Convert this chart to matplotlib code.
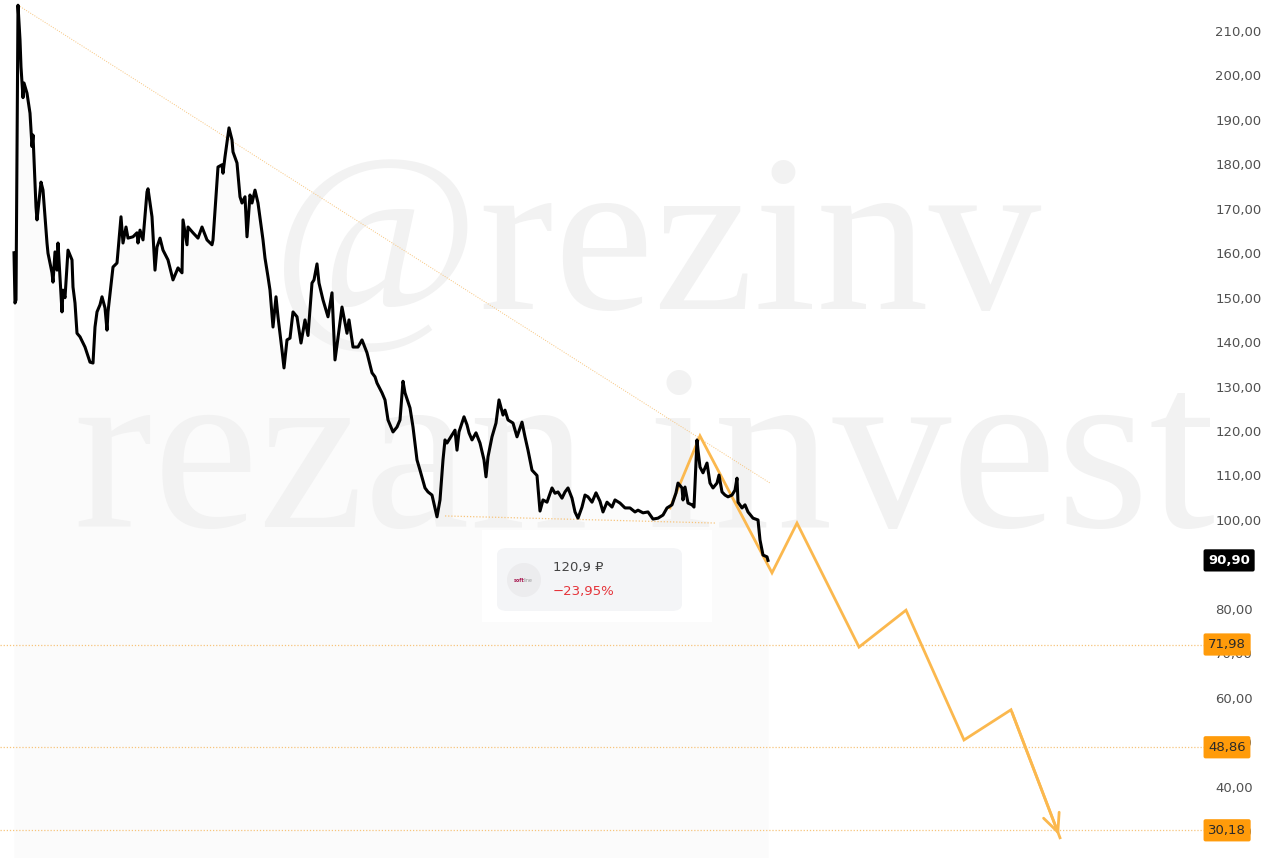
import numpy as np
import matplotlib.pyplot as plt
from matplotlib.patches import FancyBboxPatch, Circle, Rectangle
from matplotlib.transforms import blended_transform_factory

plt.rcParams['font.family'] = ['DejaVu Sans', 'Noto Sans']

# price path (bar index, close)
bars = [14, 15, 16, 18, 19, 20, 21, 23, 24, 27, 30, 32, 33, 36, 37, 41, 43, 47, 48, 52,
        53, 55, 57, 58, 62, 63, 65, 68, 72, 73, 75, 77, 80, 85, 90, 93, 95, 97, 100, 102,
        105, 107, 108, 113, 117, 121, 123, 126, 128, 133, 137, 138, 140, 143, 147, 148, 152, 155, 157, 160,
        163, 168, 173, 178, 182, 183, 187, 188, 193, 198, 202, 207, 212, 213, 218, 222, 223, 225, 229, 232,
        233, 237, 240, 242, 245, 247, 250, 252, 255, 258, 263, 265, 268, 270, 273, 276, 278, 282, 284, 287,
        290, 293, 297, 301, 305, 308, 312, 314, 317, 319, 323, 328, 332, 335, 338, 342, 347, 349, 353, 358,
        362, 367, 372, 375, 377, 382, 385, 388, 390, 393, 397, 400, 403, 405, 410, 413, 417, 420, 425, 428,
        432, 437, 440, 443, 445, 447, 450, 455, 457, 459, 464, 467, 469, 472, 476, 480, 484, 486, 488, 492,
        496, 499, 503, 505, 508, 513, 517, 522, 525, 528, 532, 537, 540, 543, 547, 552, 555, 558, 562, 565,
        568, 572, 575, 578, 582, 585, 588, 592, 596, 600, 603, 607, 612, 615, 620, 625, 630, 635, 638, 643,
        648, 653, 658, 663, 667, 672, 676, 678, 682, 683, 685, 688, 692, 694, 697, 698, 700, 703, 707, 710,
        713, 717, 719, 722, 725, 728, 732, 735, 737, 738, 742, 745, 748, 753, 758, 760, 763, 767, 768]
close = [160.1, 148.8, 149.5, 215.8, 212.0, 208.0, 201.9, 195.0, 198.3, 196.0, 191.5, 184.0, 186.6, 170.4, 167.5, 176.0, 174.2, 162.3, 160.0, 155.6,
         153.5, 160.3, 156.2, 162.3, 146.8, 151.7, 150.0, 160.7, 158.5, 152.4, 148.8, 142.0, 141.2, 138.9, 135.5, 135.3, 143.4, 146.8, 148.4, 150.2,
         147.7, 142.7, 146.8, 156.9, 157.8, 168.2, 162.3, 165.9, 163.4, 163.7, 164.6, 162.3, 165.2, 163.0, 173.8, 174.5, 168.2, 156.2, 161.4, 163.4,
         160.7, 158.5, 154.0, 156.7, 155.6, 167.5, 161.9, 165.9, 164.6, 163.4, 165.9, 163.0, 161.9, 163.0, 179.4, 179.9, 178.0, 181.7, 188.2, 185.5,
         182.8, 180.3, 172.7, 171.3, 172.7, 163.7, 173.1, 171.3, 174.2, 171.3, 163.0, 158.9, 154.7, 151.7, 143.4, 150.2, 145.7, 138.2, 134.2, 140.5,
         140.9, 146.8, 145.7, 139.8, 145.0, 141.5, 153.3, 154.0, 157.6, 153.3, 149.5, 145.7, 151.1, 136.0, 141.0, 147.9, 142.0, 145.0, 138.9, 138.9,
         140.5, 137.6, 133.1, 132.2, 130.8, 128.6, 127.0, 122.5, 121.4, 119.8, 120.9, 122.5, 131.2, 128.6, 125.2, 120.9, 113.5, 111.2, 107.2, 106.3,
         105.6, 100.7, 104.5, 113.5, 118.0, 117.3, 118.4, 120.2, 115.7, 119.8, 123.2, 121.4, 119.6, 118.0, 119.6, 117.3, 113.5, 109.7, 114.2, 118.7,
         121.8, 127.0, 123.6, 124.7, 122.5, 121.8, 118.7, 122.0, 118.7, 115.7, 111.2, 110.0, 102.0, 104.5, 104.0, 107.2, 106.0, 106.3, 104.9, 106.3,
         107.2, 104.9, 101.8, 100.4, 102.9, 105.6, 105.2, 104.0, 106.1, 104.2, 101.8, 104.0, 102.9, 104.5, 103.8, 102.7, 102.7, 101.8, 102.2, 101.6,
         101.8, 100.2, 100.4, 101.1, 102.7, 103.4, 106.1, 108.3, 107.2, 104.5, 107.4, 103.8, 103.4, 102.9, 118.0, 115.7, 111.9, 110.6, 112.8, 108.3,
         107.2, 108.3, 110.1, 106.3, 105.6, 105.2, 105.6, 106.7, 109.4, 104.0, 102.7, 103.4, 101.8, 100.4, 100.0, 95.5, 92.1, 91.7, 90.9]

# projected zigzag
proj_bars = [670, 700, 772, 797, 859, 906, 964, 1011, 1060]
proj_vals = [102.7, 118.9, 88.1, 99.3, 71.4, 79.7, 50.5, 57.3, 28.5]

# trend lines
upper_bars = [18, 770]
upper_vals = [215.8, 108.3]
lower_bars = [445, 716]
lower_vals = [100.9, 99.3]

levels = [71.98, 48.86, 30.18]
level_labels = ['71,98', '48,86', '30,18']
last_price = 90.90

yticks = [210, 200, 190, 180, 170, 160, 150, 140, 130, 120, 110, 100, 80, 70, 60, 50, 40, 30]

orange = '#ff9b0a'
light_or = '#f7c47c'
zig = '#fbb84e'

fig = plt.figure(figsize=(12.8, 8.58), dpi=100)
ax = fig.add_axes([0, 0, 1204 / 1280, 1])
ymin, ymax = 23.95, 216.97
ax.set_xlim(0, 1204)
ax.set_ylim(ymin, ymax)

# faint area under the price
ax.fill_between(bars, close, ymin, color='#fbfbfb', lw=0, zorder=0.2)

# watermark
ax.text(657, 147.5, '@rezinv', fontsize=162, family='Liberation Serif', color='#f2f2f2',
        ha='center', va='baseline', zorder=0.5)
ax.text(645, 98.5, 'rezan invest', fontsize=171, family='Liberation Serif', color='#f2f2f2',
        ha='center', va='baseline', zorder=0.5)

ax.plot(upper_bars, upper_vals, ls=(0, (1, 1.5)), color=light_or, lw=0.7, zorder=2)
ax.plot(lower_bars, lower_vals, ls=(0, (1, 1.5)), color=light_or, lw=0.9, zorder=2)
for lv in levels:
    ax.axhline(lv, ls=(0, (1, 1.5)), color=light_or, lw=0.9, zorder=2)

ax.plot(proj_bars, proj_vals, color=zig, lw=2, zorder=3, solid_joinstyle='miter')
ax.annotate('', xy=(proj_bars[-1], proj_vals[-1]), xytext=(proj_bars[-2], proj_vals[-2]),
            arrowprops=dict(arrowstyle='->,head_length=1.3,head_width=0.6', color=zig, lw=2),
            zorder=3)
ax.plot(bars, close, color='black', lw=2.2, zorder=4, solid_joinstyle='round')

# info card
card_bg = Rectangle((482 / 1280, 1 - 622 / 858), 230 / 1280, 92 / 858, transform=fig.transFigure,
                    fc='white', ec='none', zorder=5)
ax.add_patch(card_bg)
card = FancyBboxPatch((497 / 1280, 1 - 611 / 858), 185 / 1280, 63 / 858, transform=fig.transFigure,
                      boxstyle='round,pad=0,rounding_size=0.008', fc='#f4f5f7', ec='none', zorder=6)
ax.add_patch(card)
logo = Circle((524 / 100, (858 - 580) / 100), 0.17, transform=fig.dpi_scale_trans,
              fc='#ececee', ec='none', zorder=7)
ax.add_patch(logo)
fig.text(524 / 1280, 1 - 580 / 858, 'soft', fontsize=3.5, color='#a8174f', weight='bold',
         ha='right', va='center', zorder=8)
fig.text(524 / 1280, 1 - 580 / 858, 'line', fontsize=3.5, color='#999999',
         ha='left', va='center', zorder=8)
fig.text(553 / 1280, 1 - 567 / 858, '120,9 ₽', fontsize=9.5, color='#444444', ha='left', va='center')
fig.text(553 / 1280, 1 - 591 / 858, '−23,95%', fontsize=9.5, color='#e5343a', ha='left', va='center')

# right axis
ax.yaxis.tick_right()
ax.set_yticks(yticks)
ax.set_yticklabels([f'{t:.2f}'.replace('.', ',') for t in yticks], fontsize=9.5, color='#505050')
ax.tick_params(axis='y', length=0, pad=8)
ax.set_xticks([])
for s in ax.spines.values():
    s.set_visible(False)

tr = blended_transform_factory(ax.transAxes, ax.transData)
ax.annotate(f'{last_price:.2f}'.replace('.', ','), xy=(1, last_price), xycoords=tr,
            xytext=(3, 0), textcoords='offset points', ha='left', va='center',
            fontsize=9.5, color='white', weight='bold', annotation_clip=False,
            bbox=dict(boxstyle='round,pad=0.35,rounding_size=0.15', fc='black', ec='none'))
for lv, lab in zip(levels, level_labels):
    ax.annotate(lab, xy=(1, lv), xycoords=tr, xytext=(3, 0), textcoords='offset points',
                ha='left', va='center', fontsize=9.5, color='#2a2a2a', annotation_clip=False,
                bbox=dict(boxstyle='round,pad=0.35,rounding_size=0.15', fc=orange, ec='none'))

fig.savefig('out.png', dpi=100)
